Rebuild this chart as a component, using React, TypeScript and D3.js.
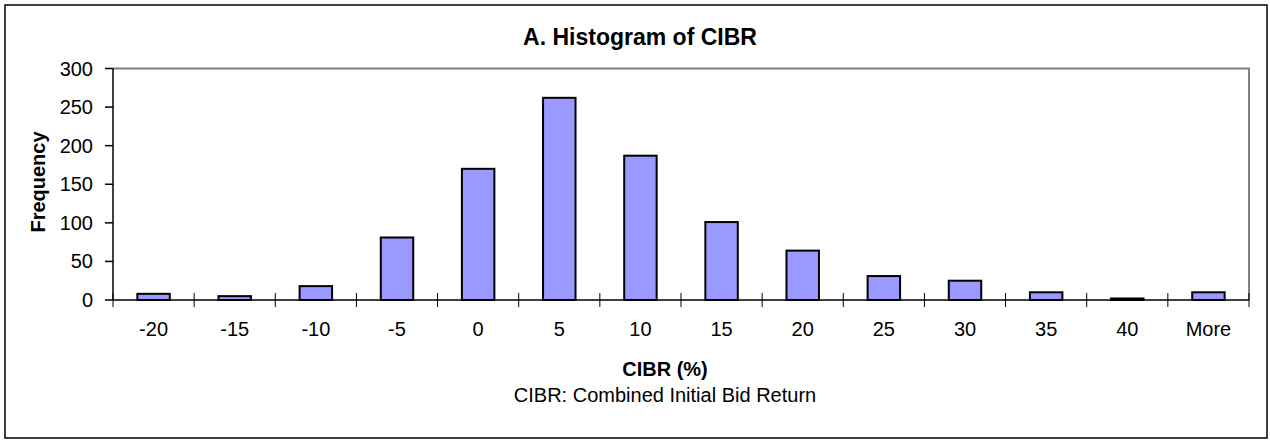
import React from "react";
import * as d3 from "d3";

const categories = ["-20", "-15", "-10", "-5", "0", "5", "10", "15", "20", "25", "30", "35", "40", "More"];
const frequencies = [8, 5, 18, 81, 170, 262, 187, 101, 64, 31, 25, 10, 2, 10];
const yTicks = [0, 50, 100, 150, 200, 250, 300];

const W = 1270;
const H = 443;
const left = 113;
const right = 1249;
const top = 68.5;
const bottom = 300;
const FONT = "'Liberation Sans', Arial, sans-serif";

export default function App() {
  const x = d3.scaleBand<string>().domain(categories).range([left, right]).paddingInner(0).paddingOuter(0);
  const y = d3.scaleLinear().domain([0, 300]).range([bottom, top]);
  const bw = x.bandwidth() / 2.5;

  return (
    <svg width={W} height={H} style={{ position: "absolute", left: 0, top: 0, background: "#fff" }} fontFamily={FONT}>
      <rect x={5} y={5} width={1262} height={433} fill="#fff" stroke="#000" strokeWidth={1.5} />
      <text x={640} y={45} textAnchor="middle" fontSize={23} fontWeight="bold">A. Histogram of CIBR</text>
      {/* plot area border top/right */}
      <path d={`M${left},${top}H${right}V${bottom}`} fill="none" stroke="#808080" strokeWidth={2} />
      {/* bars */}
      {categories.map((c, i) => {
        const cx = (x(c) as number) + x.bandwidth() / 2;
        const v = frequencies[i];
        return (
          <rect key={c} x={cx - bw / 2} y={y(v)} width={bw} height={bottom - y(v)} fill="#9999FF" stroke="#000" strokeWidth={2} />
        );
      })}
      {/* y axis */}
      <line x1={left} y1={top} x2={left} y2={bottom} stroke="#000" strokeWidth={1.5} />
      {yTicks.map((t) => (
        <g key={t}>
          <line x1={left - 8} x2={left} y1={y(t)} y2={y(t)} stroke="#000" strokeWidth={1.5} />
          <text x={93} y={y(t) + 7} textAnchor="end" fontSize={20}>{t}</text>
        </g>
      ))}
      {/* x axis */}
      <line x1={left} y1={bottom} x2={right} y2={bottom} stroke="#000" strokeWidth={1.5} />
      {categories.map((c) => (
        <line key={"t" + c} x1={x(c) as number} x2={x(c) as number} y1={bottom - 7} y2={bottom + 7} stroke="#000" strokeWidth={1} />
      ))}
      <line x1={right} x2={right} y1={bottom - 7} y2={bottom + 7} stroke="#000" strokeWidth={1} />
      {categories.map((c) => (
        <text key={"l" + c} x={(x(c) as number) + x.bandwidth() / 2} y={336} textAnchor="middle" fontSize={20}>{c}</text>
      ))}
      <text x={665} y={376} textAnchor="middle" fontSize={20} fontWeight="bold">CIBR (%)</text>
      <text x={665} y={402} textAnchor="middle" fontSize={20}>CIBR: Combined Initial Bid Return</text>
      <text transform={`translate(45,182) rotate(-90)`} textAnchor="middle" fontSize={20} fontWeight="bold">Frequency</text>
    </svg>
  );
}
